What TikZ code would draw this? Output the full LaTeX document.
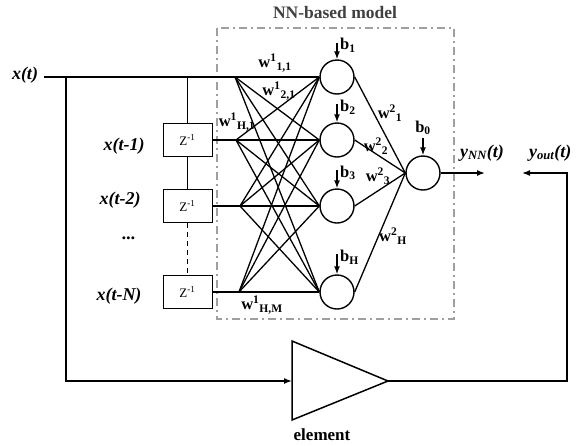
\documentclass[tikz,border=0pt]{standalone}
\usepackage{fontspec}
\setmainfont{Liberation Serif}
\usetikzlibrary{arrows.meta}
\begin{document}
\begin{tikzpicture}[x=1pt,y=-1pt,
  wire/.style={line width=1.5pt},
  thinwire/.style={line width=1.3pt},
  neuron/.style={circle,draw,line width=1.4pt,minimum size=34pt,inner sep=0pt},
  delaybox/.style={draw,line width=0.9pt,minimum width=49pt,minimum height=33pt,inner sep=0pt,font=\fontsize{13}{15}\selectfont},
  sig/.style={font=\fontsize{18}{20}\selectfont\bfseries\itshape},
  wlab/.style={font=\fontsize{16.5}{18}\selectfont\bfseries,inner sep=0pt},
  blab/.style={font=\fontsize{16.5}{18}\selectfont\bfseries,inner sep=0pt},
  arr/.style={wire,-{Latex[length=8pt,width=6pt]}},
  frame/.style={draw=gray!75,line width=1.7pt,dash pattern=on 8pt off 4pt on 2pt off 4pt}
]
\useasboundingbox (0,0) rectangle (576,445);

% frame and title
\draw[frame] (217,28) rectangle (454,319);
\node[font=\fontsize{17.5}{20}\selectfont\bfseries,text=black!75] (title) at (335,13) {NN-based model};

% neurons
\node[neuron] (h1) at (337,77) {};
\node[neuron] (h2) at (337,140) {};
\node[neuron] (h3) at (337,206) {};
\node[neuron] (h4) at (337,292) {};
\node[neuron] (o) at (423,173) {};

% delay boxes
\node[delaybox] (d1) at (187.5,140) {Z\textsuperscript{-1}};
\node[delaybox] (d2) at (187.5,206) {Z\textsuperscript{-1}};
\node[delaybox] (d3) at (187.5,292) {Z\textsuperscript{-1}};

% signal labels
\node[sig] (xt) at (25,75) {x(t)};
\node[sig] (xt1) at (124,146) {x(t-1)};
\node[sig] (xt2) at (120,200) {x(t-2)};
\node[sig] (dots) at (129,238) {...};
\node[sig] (xtN) at (119,296) {x(t-N)};

% coordinates
\coordinate (xs) at (44,77);
\coordinate (c1) at (66,77);
\coordinate (c2) at (187.5,77);
\coordinate (f1) at (235,77);
\coordinate (f2) at (236,140);
\coordinate (f3) at (240,206);
\coordinate (f4) at (239,292);
\coordinate (cb) at (66,381);
\coordinate (tl) at (292,341);
\coordinate (tb) at (292,420);
\coordinate (ta) at (388,381);
\coordinate (tin) at (292,381);
\coordinate (fr) at (567,381);
\coordinate (fu) at (567,173);
\coordinate (yout) at (522,173);
\coordinate (ynn) at (485,173);

% input lines
\draw[wire] (xs) -- (h1.west);
\draw[wire] (c2) -- (d1.north);
\draw[wire] (d1.south) -- (d2.north);
\draw[wire,dash pattern=on 5pt off 4pt] (d2.south) -- (d3.north);
\draw[wire] (d1.east) -- (h2.west);
\draw[wire] (d2.east) -- (h3.west);
\draw[wire] (d3.east) -- (h4.west);

% fan-out to hidden layer
\foreach \f in {f1,f2,f3,f4}{
  \foreach \h in {h1,h2,h3,h4}{
    \draw[thinwire] (\f) -- (\h.west);
  }
}

% hidden to output
\foreach \h in {h1,h2,h3,h4}{
  \draw[thinwire] (\h.east) -- (o.west);
}

% biases
\coordinate (b1s) at (337,43);
\coordinate (b2s) at (337,104);
\coordinate (b3s) at (337,170);
\coordinate (b4s) at (337,254);
\coordinate (b0s) at (423,138);
\draw[arr] (b1s) -- (h1.north);
\draw[arr] (b2s) -- (h2.north);
\draw[arr] (b3s) -- (h3.north);
\draw[arr] (b4s) -- (h4.north);
\draw[arr] (b0s) -- (o.north);
\node[blab,anchor=west] (lb1) at (340,45) {b\textsubscript{1}};
\node[blab,anchor=west] (lb2) at (340,107) {b\textsubscript{2}};
\node[blab,anchor=west] (lb3) at (340,173) {b\textsubscript{3}};
\node[blab,anchor=west] (lb4) at (340,257) {b\textsubscript{H}};
\node[blab] (lb0) at (423,128) {b\textsubscript{0}};

% weight labels
\node[wlab] (w11) at (275,63) {w\textsuperscript{1}\textsubscript{1,1}};
\node[wlab] (w21) at (279,91) {w\textsuperscript{1}\textsubscript{2,1}};
\node[wlab] (wH1) at (237,122) {w\textsuperscript{1}\textsubscript{H,1}};
\node[wlab] (wHM) at (262,305) {w\textsuperscript{1}\textsubscript{H,M}};
\node[wlab] (v1) at (390,113) {w\textsuperscript{2}\textsubscript{1}};
\node[wlab] (v2) at (376,146) {w\textsuperscript{2}\textsubscript{2}};
\node[wlab] (v3) at (378,176) {w\textsuperscript{2}\textsubscript{3}};
\node[wlab] (vH) at (393,236) {w\textsuperscript{2}\textsubscript{H}};

% output
\draw[arr] (o.east) -- (ynn);
\node[sig] (lynn) at (482,153) {y\textsubscript{NN}(t)};
\node[sig,anchor=east] (lyout) at (575,153) {y\textsubscript{out}(t)};

% element
\draw[wire] (tl) -- (tb) -- (ta) -- cycle;
\node[font=\fontsize{17}{18}\selectfont\bfseries] (elem) at (322,435) {element};
\draw[arr] (c1) -- (cb) -- (tin);
\draw[arr] (ta) -- (fr) -- (fu) -- (yout);
\end{tikzpicture}
\end{document}
